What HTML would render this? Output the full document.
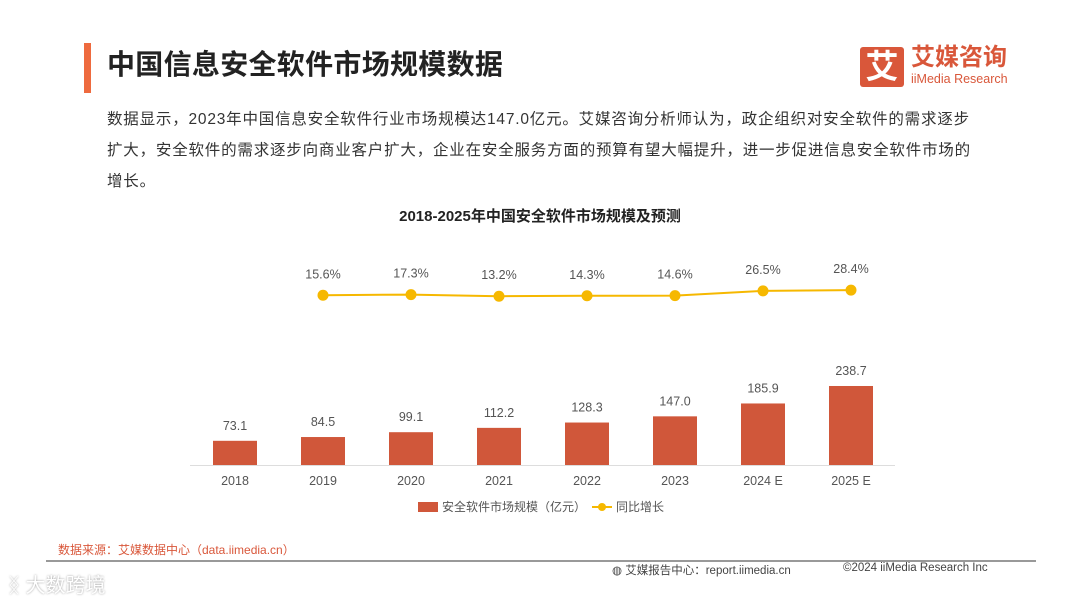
<!DOCTYPE html>
<html><head><meta charset="utf-8">
<style>
body{margin:0;width:1080px;height:602px;background:#fff;overflow:hidden;font-family:"Liberation Sans","Noto Sans CJK SC",sans-serif;position:relative}
.abs{position:absolute}
</style></head><body>
<div class="abs" style="left:84px;top:43px;width:7px;height:50px;background:#ee6a3e"></div>
<div class="abs" style="left:107px;top:45px;font-size:28px;font-weight:bold;color:#222;line-height:40px;letter-spacing:0.3px">中国信息安全软件市场规模数据</div>
<div class="abs" style="left:860px;top:47px;width:44px;height:40px;background:#d9573a;border-radius:3px;color:#fff;font-size:33px;font-weight:bold;text-align:center;line-height:40px">艾</div>
<div class="abs" style="left:911px;top:43px;font-size:24px;font-weight:bold;color:#d9573a;line-height:30px">艾媒咨询</div>
<div class="abs" style="left:911px;top:72px;font-size:12.5px;color:#d9573a">iiMedia Research</div>
<div class="abs" style="left:107px;top:104px;width:900px;font-size:15.5px;color:#333;line-height:31px;white-space:nowrap;letter-spacing:0.8px">数据显示，2023年中国信息安全软件行业市场规模达147.0亿元。艾媒咨询分析师认为，政企组织对安全软件的需求逐步<br>扩大，安全软件的需求逐步向商业客户扩大，企业在安全服务方面的预算有望大幅提升，进一步促进信息安全软件市场的<br>增长。</div>
<div class="abs" style="left:0;width:1080px;top:205px;text-align:center;font-size:15px;font-weight:bold;color:#222">2018-2025年中国安全软件市场规模及预测</div>
<svg class="abs" style="left:0;top:0" width="1080" height="602" id="chart"></svg>
<div class="abs" style="left:418px;top:498px;font-size:12px;color:#555;display:flex;align-items:center">
<span style="display:inline-block;width:20px;height:10px;background:#d0573a;margin-right:4px"></span><span>安全软件市场规模（亿元）</span>
<span style="display:inline-block;width:20px;height:2px;background:#f6b800;margin:0 4px 0 6px;position:relative"><span style="position:absolute;left:6px;top:-3px;width:8px;height:8px;border-radius:50%;background:#f6b800"></span></span><span>同比增长</span>
</div>
<div class="abs" style="left:58px;top:541px;font-size:12px;color:#d9573a">数据来源：艾媒数据中心（data.iimedia.cn）</div>
<div class="abs" style="left:46px;top:560px;width:990px;height:2px;background:#999"></div>
<div class="abs" style="left:612px;top:562px;font-size:11.5px;color:#444">◍ 艾媒报告中心：report.iimedia.cn</div>
<div class="abs" style="left:843px;top:562px;font-size:11.5px;color:#444">©2024  iiMedia Research  Inc</div>
<div class="abs" style="left:8px;top:569px;font-size:20px;color:#fff;text-shadow:0 0 2px #999">ᛝ 大数跨境</div>
<script>
const categories=["2018","2019","2020","2021","2022","2023","2024 E","2025 E"];
const marketSize=[73.1,84.5,99.1,112.2,128.3,147.0,185.9,238.7];
const growthYears=[1,2,3,4,5,6,7];
const growthRates=[15.6,17.3,13.2,14.3,14.6,26.5,28.4];
const svg=document.getElementById('chart');
const NS='http://www.w3.org/2000/svg';
const x=i=>235+i*88;
const yBar=v=>465-v*0.331;
const yLine=v=>301.5-v*0.4;
function mk(t,a){const e=document.createElementNS(NS,t);for(const k in a)e.setAttribute(k,a[k]);svg.appendChild(e);return e;}
const ax=mk('line',{x1:190,x2:895,y1:465.5,y2:465.5,stroke:'#ddd','stroke-width':1});


categories.forEach((c,i)=>{
 const v=marketSize[i];
 const r=mk('rect',{x:x(i)-22,y:yBar(v),width:44,height:465-yBar(v),fill:'#d0573a'});
 
 
 const t=mk('text',{x:x(i),y:yBar(v)-11,'text-anchor':'middle','font-size':12.5,fill:'#555'});t.textContent=v.toFixed(1);
 
 
 const l=mk('text',{x:x(i),y:485,'text-anchor':'middle','font-size':12.5,fill:'#555'});l.textContent=c;
 
 
});
const pts=growthYears.map((g,i)=>x(g)+','+yLine(growthRates[i])).join(' ');
const pl=mk('polyline',{points:pts,fill:'none',stroke:'#f6b800','stroke-width':2});


growthYears.forEach((g,i)=>{
 const v=growthRates[i];
 const c=mk('circle',{cx:x(g),cy:yLine(v),r:5.5,fill:'#f6b800'});
 
 
 const t=mk('text',{x:x(g),y:yLine(v)-17,'text-anchor':'middle','font-size':12.5,fill:'#555'});t.textContent=v.toFixed(1)+'%';
 
 
});
</script>
</body></html>
